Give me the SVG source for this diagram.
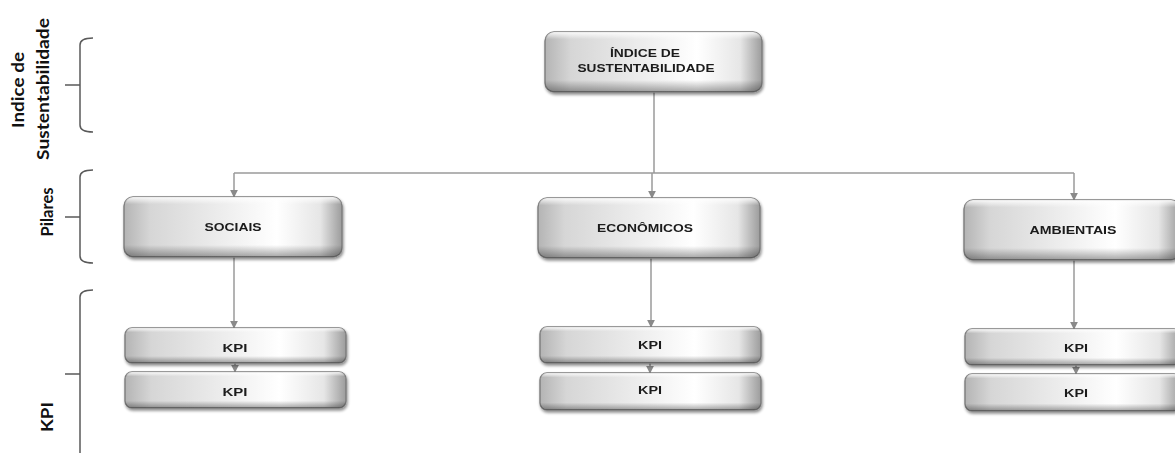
<svg xmlns="http://www.w3.org/2000/svg" width="1175" height="453" viewBox="0 0 1175 453">
  <defs>
    <!-- horizontal sheen of the bevelled boxes -->
    <linearGradient id="sheen" x1="0" y1="0" x2="1" y2="0">
      <stop offset="0" stop-color="#b4b4b4"/>
      <stop offset="0.12" stop-color="#d6d6d6"/>
      <stop offset="0.7" stop-color="#ffffff"/>
      <stop offset="0.9" stop-color="#e6e6e6"/>
      <stop offset="1" stop-color="#9c9c9c"/>
    </linearGradient>
    <!-- vertical bevel: light top edge, dark lower edge -->
    <linearGradient id="bevel" x1="0" y1="0" x2="0" y2="1">
      <stop offset="0" stop-color="#ffffff" stop-opacity="0.9"/>
      <stop offset="0.12" stop-color="#ffffff" stop-opacity="0"/>
      <stop offset="0.8" stop-color="#000000" stop-opacity="0"/>
      <stop offset="1" stop-color="#000000" stop-opacity="0.35"/>
    </linearGradient>
    <filter id="shadow" x="-5%" y="-20%" width="110%" height="150%">
      <feGaussianBlur in="SourceAlpha" stdDeviation="1.5"/>
      <feOffset dx="1" dy="2" result="b"/>
      <feComponentTransfer><feFuncA type="linear" slope="0.45"/></feComponentTransfer>
      <feMerge><feMergeNode/><feMergeNode in="SourceGraphic"/></feMerge>
    </filter>
    <marker id="arrow" viewBox="0 0 10 10" refX="9" refY="5" markerWidth="8" markerHeight="8" markerUnits="userSpaceOnUse" orient="auto">
      <path d="M0,0 L10,5 L0,10 z" fill="#8a8a8a"/>
    </marker>
  </defs>
  <style>
    .box { fill: url(#sheen); stroke: #7c7c7c; stroke-width: 1.4; }
    .bev { fill: url(#bevel); stroke: none; }
    .lbl { font-family: "Liberation Sans", Arial, sans-serif; font-weight: bold; font-size: 10.5px; fill: #1a1a1a; text-anchor: middle; }
    .side { font-family: Lato, "Liberation Sans", sans-serif; font-weight: bold; font-size: 17px; fill: #111; text-anchor: middle; }
    .brace { fill: none; stroke: #5a5a5a; stroke-width: 1.5; }
    .wire { fill: none; stroke: #9a9a9a; stroke-width: 1.5; }
    .arr { fill: none; stroke: #9a9a9a; stroke-width: 1.5; marker-end: url(#arrow); }
  </style>

  <rect width="1175" height="453" fill="#ffffff"/>

  <!-- level braces and their captions -->
  <g id="levels">
    <path class="brace" d="M93,38 Q80,38 80,45 L80,125 Q80,132 93,132 M65,85 L80,85"/>
    <path class="brace" d="M93,170 Q80,170 80,177 L80,256 Q80,263 93,263 M65,217 L80,217"/>
    <path class="brace" d="M93,290 Q80,290 80,297 L80,453 M65,374 L80,374"/>
    <text class="side" transform="translate(24,90) rotate(-90)" textLength="76" lengthAdjust="spacingAndGlyphs">Indice de</text>
    <text class="side" transform="translate(49,89) rotate(-90)" textLength="142" lengthAdjust="spacingAndGlyphs">Sustentabilidade</text>
    <text class="side" transform="translate(53,212) rotate(-90)" textLength="49" lengthAdjust="spacingAndGlyphs">Pilares</text>
    <text class="side" transform="translate(53,417) rotate(-90)" textLength="30" lengthAdjust="spacingAndGlyphs">KPI</text>
  </g>

  <!-- connectors -->
  <g id="connectors">
    <path class="wire" d="M654,92 L654,173 M234,173 L1074,173"/>
    <path class="arr" d="M234,173 L234,197"/>
    <path class="arr" d="M652,173 L652,198"/>
    <path class="arr" d="M1074,173 L1074,200"/>
    <path class="arr" d="M234,257 L234,328"/>
    <path class="arr" d="M651,258 L651,327"/>
    <path class="arr" d="M1074,260 L1074,329"/>
    <path class="arr" d="M235,363 L235,372"/>
    <path class="arr" d="M650,363 L650,373"/>
    <path class="arr" d="M1076,365 L1076,374"/>
  </g>

  <!-- index node -->
  <g id="indice" filter="url(#shadow)">
    <rect class="box" x="545" y="32" width="217" height="60" rx="9"/>
    <rect class="bev" x="545" y="32" width="217" height="60" rx="9"/>
    <text class="lbl" x="645" y="57" textLength="70" lengthAdjust="spacingAndGlyphs">ÍNDICE DE</text>
    <text class="lbl" x="646" y="72" textLength="137" lengthAdjust="spacingAndGlyphs">SUSTENTABILIDADE</text>
  </g>

  <!-- pillars -->
  <g id="sociais" filter="url(#shadow)">
    <rect class="box" x="124" y="197" width="218" height="60" rx="9"/>
    <rect class="bev" x="124" y="197" width="218" height="60" rx="9"/>
    <text class="lbl" x="233" y="231" textLength="57" lengthAdjust="spacingAndGlyphs">SOCIAIS</text>
  </g>
  <g id="economicos" filter="url(#shadow)">
    <rect class="box" x="538" y="198" width="222" height="60" rx="9"/>
    <rect class="bev" x="538" y="198" width="222" height="60" rx="9"/>
    <text class="lbl" x="645" y="232" textLength="96" lengthAdjust="spacingAndGlyphs">ECONÔMICOS</text>
  </g>
  <g id="ambientais" filter="url(#shadow)">
    <rect class="box" x="964" y="200" width="216" height="60" rx="9"/>
    <rect class="bev" x="964" y="200" width="216" height="60" rx="9"/>
    <text class="lbl" x="1073" y="234" textLength="87" lengthAdjust="spacingAndGlyphs">AMBIENTAIS</text>
  </g>

  <!-- KPI boxes -->
  <g id="kpi-sociais-1" filter="url(#shadow)">
    <rect class="box" x="125" y="328" width="221" height="35" rx="7"/>
    <rect class="bev" x="125" y="328" width="221" height="35" rx="7"/>
    <text class="lbl" x="235" y="352" textLength="25" lengthAdjust="spacingAndGlyphs">KPI</text>
  </g>
  <g id="kpi-sociais-2" filter="url(#shadow)">
    <rect class="box" x="125" y="372" width="221" height="36" rx="7"/>
    <rect class="bev" x="125" y="372" width="221" height="36" rx="7"/>
    <text class="lbl" x="235" y="396" textLength="25" lengthAdjust="spacingAndGlyphs">KPI</text>
  </g>
  <g id="kpi-economicos-1" filter="url(#shadow)">
    <rect class="box" x="540" y="327" width="221" height="36" rx="7"/>
    <rect class="bev" x="540" y="327" width="221" height="36" rx="7"/>
    <text class="lbl" x="650" y="349" textLength="24" lengthAdjust="spacingAndGlyphs">KPI</text>
  </g>
  <g id="kpi-economicos-2" filter="url(#shadow)">
    <rect class="box" x="540" y="373" width="221" height="37" rx="7"/>
    <rect class="bev" x="540" y="373" width="221" height="37" rx="7"/>
    <text class="lbl" x="650" y="394" textLength="24" lengthAdjust="spacingAndGlyphs">KPI</text>
  </g>
  <g id="kpi-ambientais-1" filter="url(#shadow)">
    <rect class="box" x="965" y="329" width="216" height="36" rx="7"/>
    <rect class="bev" x="965" y="329" width="216" height="36" rx="7"/>
    <text class="lbl" x="1076" y="352" textLength="24" lengthAdjust="spacingAndGlyphs">KPI</text>
  </g>
  <g id="kpi-ambientais-2" filter="url(#shadow)">
    <rect class="box" x="965" y="374" width="216" height="37" rx="7"/>
    <rect class="bev" x="965" y="374" width="216" height="37" rx="7"/>
    <text class="lbl" x="1076" y="397" textLength="24" lengthAdjust="spacingAndGlyphs">KPI</text>
  </g>
</svg>
